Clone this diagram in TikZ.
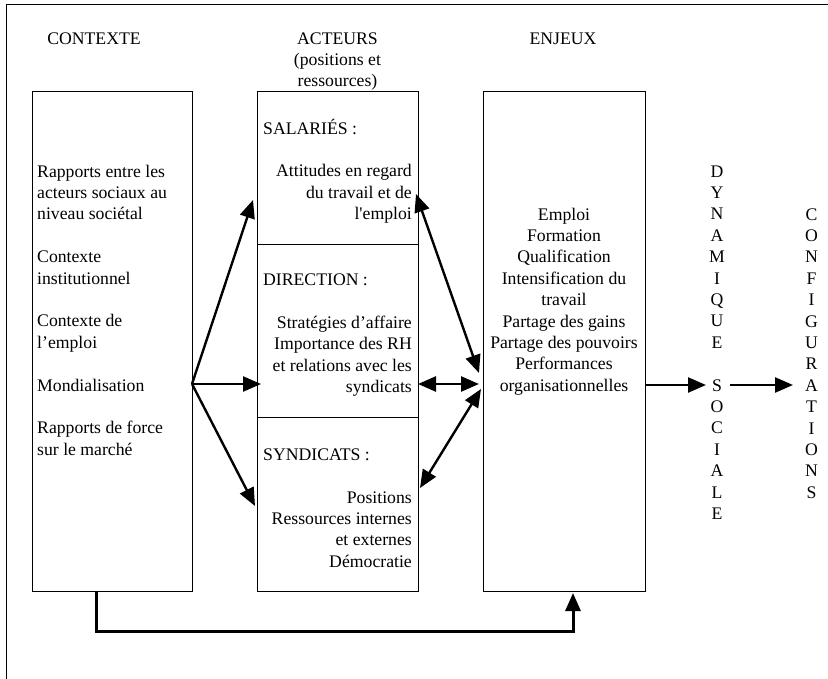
\documentclass[tikz,border=0pt]{standalone}
\usepackage{fontspec}
\setmainfont{Liberation Serif}
\newfontfamily\rawserif{Liberation Serif}
\usetikzlibrary{arrows.meta}
\newcommand{\fsz}{\fontsize{17.7}{21.4}\selectfont}
\tikzset{
  box/.style={draw, line width=1pt, inner sep=0pt, anchor=north west},
  txt/.style={inner sep=0pt, font=\fsz},
  arr/.style={line width=2.4pt, -{Triangle[length=18pt,width=15pt]}},
  darr/.style={line width=2.4pt, {Triangle[length=18pt,width=15pt]}-{Triangle[length=18pt,width=15pt]}},
}
\begin{document}
\begin{tikzpicture}[x=1pt,y=-1pt]
\useasboundingbox (0,0) rectangle (828,679);
% frame (top and left edges)
\draw[line width=1pt] (828,4.5) -- (6.5,4.5) -- (6.5,679);

% column titles (multi-line nodes: base = baseline of last line)
\node[txt, anchor=base] (tctx) at (94,45) {CONTEXTE};
\node[txt, anchor=base, align=center] (tact) at (337.5,87) {ACTEURS\\(positions et\\ressources)};
\node[txt, anchor=base] (tenj) at (563,45) {ENJEUX};

% boxes
\node[box, minimum width=160.5pt, minimum height=499.5pt] (ctx) at (31.5,91.5) {};
\node[box, minimum width=161pt, minimum height=152.5pt] (sal) at (257,91.5) {};
\node[box, minimum width=161pt, minimum height=173pt] (dir) at (257,244) {};
\node[box, minimum width=161pt, minimum height=174pt] (syn) at (257,417) {};
\node[box, minimum width=161.5pt, minimum height=499.5pt] (enj) at (483,91.5) {};

% context text
\node[txt, anchor=base west, align=left] (ctxt) at (37,455.2) {Rapports entre les\\acteurs sociaux au\\niveau sociétal\\[21.4pt]Contexte\\institutionnel\\[21.4pt]Contexte de\\l’emploi\\[21.4pt]Mondialisation\\[21.4pt]Rapports de force\\sur le marché};

% actors text
\node[txt, anchor=base west] (salh) at (263,135) {SALARIÉS :};
\node[txt, anchor=base east, align=right] (salt) at (412,219.8) {Attitudes en regard\\du travail et de\\l{\rawserif'}emploi};
\node[txt, anchor=base west] (dirh) at (263,286) {DIRECTION :};
\node[txt, anchor=base east, align=right] (dirt) at (412,392.7) {Stratégies d’affaire\\Importance des RH\\et relations avec les\\syndicats};
\node[txt, anchor=base west] (synh) at (263,460) {SYNDICATS :};
\node[txt, anchor=base east, align=right] (synt) at (412,567.2) {Positions\\Ressources internes\\et externes\\Démocratie};

% enjeux text
\node[txt, anchor=base, align=center] (enjt) at (564,391.2) {Emploi\\Formation\\Qualification\\Intensification du\\travail\\Partage des gains\\Partage des pouvoirs\\Performances\\organisationnelles};

% vertical words
\node[txt, anchor=base, align=center] (dyn) at (717,519.4) {D\\Y\\N\\A\\M\\I\\Q\\U\\E\\[21.4pt]S\\O\\C\\I\\A\\L\\E};
\node[txt, anchor=base, align=center] (conf) at (811.5,498.2) {C\\O\\N\\F\\I\\G\\U\\R\\A\\T\\I\\O\\N\\S};

% coordinates for connector ends
\coordinate (o) at (192,384);
\coordinate (salin) at (253,200);
\coordinate (dirin) at (261,384);
\coordinate (synin) at (255,506);
\coordinate (salout) at (416,194);
\coordinate (dirout) at (418,384);
\coordinate (synout) at (420,488);
\coordinate (enjA) at (479,373);
\coordinate (enjB) at (479,384);
\coordinate (enjC) at (481,389);
\coordinate (enjout) at (645,385);
\coordinate (dynin) at (706,385);
\coordinate (dynout) at (730,385);
\coordinate (confin) at (793,385);
\coordinate (fbstart) at (96,591);
\coordinate (fbend) at (573,593);

% connectors
\draw[arr] (o) -- (salin);
\draw[arr] (o) -- (dirin);
\draw[arr] (o) -- (synin);
\draw[darr] (salout) -- (enjA);
\draw[darr] (dirout) -- (enjB);
\draw[darr] (synout) -- (enjC);
\draw[arr] (enjout) -- (dynin);
\draw[arr] (dynout) -- (confin);
\draw[arr, line width=3pt] (fbstart) -- (96,631) -- (573,631) -- (fbend);
\end{tikzpicture}
\end{document}
